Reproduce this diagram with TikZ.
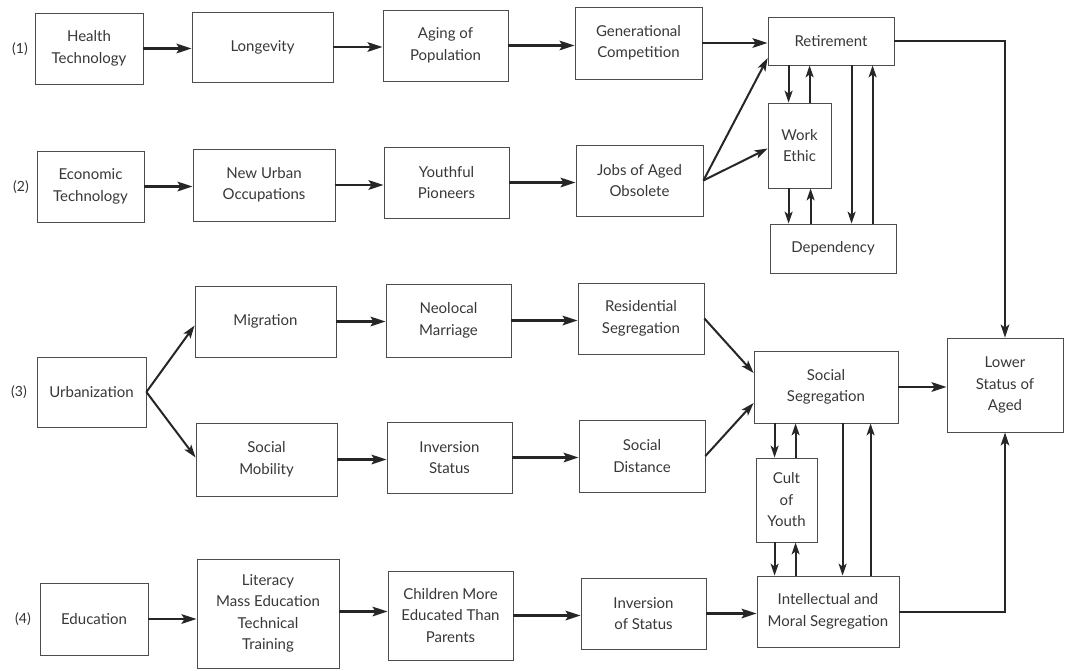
\documentclass[tikz,border=0pt]{standalone}
\usepackage{fontspec}
\setmainfont{Lato}
\usetikzlibrary{arrows.meta,calc}
\tikzset{
  box/.style={draw=black!70, line width=0.8pt, align=center, text=black!78,
    font=\fontsize{15}{21.5}\selectfont, inner sep=0pt},
  harr/.style={line width=2.6pt, draw=black!85, -{Stealth[length=15pt,width=9.5pt,inset=3pt]}},
  darr/.style={line width=2pt, draw=black!85, -{Stealth[length=13pt,width=8.5pt,inset=3pt]}},
  varr/.style={line width=1.8pt, draw=black!85, -{Stealth[length=12pt,width=8pt,inset=3pt]}},
  lbl/.style={text=black!80, font=\fontsize{14}{16}\selectfont}
}
\newcommand\mybox[6]{%
  \pgfmathsetmacro\cx{(#2+#4)/2}\pgfmathsetmacro\cy{(#3+#5)/2}%
  \pgfmathsetmacro\ww{#4-#2}\pgfmathsetmacro\hh{#5-#3}%
  \node[box,minimum width=\ww pt,minimum height=\hh pt] (#1) at (\cx,\cy) {#6};}
\begin{document}
\begin{tikzpicture}[x=1pt,y=-1pt]
\useasboundingbox[fill=white] (0,0) rectangle (1065,670);
% row labels
\node[lbl] (l1) at (20,49) {(1)};
\node[lbl] (l2) at (21,187) {(2)};
\node[lbl] (l3) at (19,392) {(3)};
\node[lbl] (l4) at (23,619) {(4)};
% boxes
\mybox{ht}{35}{13}{143}{84}{Health\\Technology}
\mybox{lon}{192}{12}{333}{82}{Longevity}
\mybox{aging}{383}{10}{508}{81}{Aging of\\Population}
\mybox{gen}{575}{7}{702}{79}{Generational\\Competition}
\mybox{ret}{768}{17}{894}{65}{Retirement}
\mybox{we}{768}{103}{831}{188}{Work\\Ethic}
\mybox{dep}{770}{224}{896}{273}{Dependency}
\mybox{et}{37}{151}{144}{222}{Economic\\Technology}
\mybox{nuo}{193}{149}{335}{221}{New Urban\\Occupations}
\mybox{yp}{384}{147}{509}{218}{Youthful\\Pioneers}
\mybox{jao}{576}{145}{703}{216}{Jobs of Aged\\Obsolete}
\mybox{urb}{37}{357}{146}{427}{Urbanization}
\mybox{mig}{195}{286}{336}{357}{Migration}
\mybox{neo}{386}{284}{511}{357}{Neolocal\\Marriage}
\mybox{res}{578}{283}{704}{354}{Residential\\Segregation}
\mybox{smob}{196}{423}{337}{496}{Social\\Mobility}
\mybox{inv}{387}{422}{512}{493}{Inversion\\Status}
\mybox{sdist}{579}{420}{705}{492}{Social\\Distance}
\mybox{sseg}{754}{351}{898}{423}{Social\\Segregation}
\mybox{low}{947}{338}{1063}{432}{Lower\\Status of\\Aged}
\mybox{cult}{756}{458}{817}{542}{Cult\\of\\Youth}
\mybox{edu}{40}{583}{148}{655}{Education}
\mybox{lit}{197}{559}{339}{668}{Literacy\\Mass Education\\Technical\\Training}
\mybox{chi}{388}{571}{513}{660}{Children More\\Educated Than\\Parents}
\mybox{invs}{581}{578}{706}{649}{Inversion\\of Status}
\mybox{ims}{757}{576}{899}{647}{Intellectual and\\Moral Segregation}
% row 1
\draw[harr] (ht.east) -- (ht.east -| lon.west);
\draw[harr] (lon.east) -- (lon.east -| aging.west);
\draw[harr] (aging.east) -- (aging.east -| gen.west);
\draw[harr] (gen.east) -- (gen.east -| ret.west);
% row 2
\draw[harr] (et.east) -- (et.east -| nuo.west);
\draw[harr] (nuo.east) -- (nuo.east -| yp.west);
\draw[harr] (yp.east) -- (yp.east -| jao.west);
\draw[darr] (jao.east) -- ([yshift=-17pt]ret.west);
\draw[darr] (jao.east) -- ([yshift=-3pt]we.west);
% retirement cluster
\draw[varr] ([xshift=21pt]ret.south west) -- ([xshift=21pt]ret.south west |- we.north);
\draw[varr] ([xshift=42pt]ret.south west |- we.north) -- ([xshift=42pt]ret.south west);
\draw[varr] ([xshift=21pt]we.south west) -- ([xshift=21pt]we.south west |- dep.north);
\draw[varr] ([xshift=43pt]we.south west |- dep.north) -- ([xshift=43pt]we.south west);
\draw[varr] ([xshift=84pt]ret.south west) -- ([xshift=84pt]ret.south west |- dep.north);
\draw[varr] ([xshift=105pt]ret.south west |- dep.north) -- ([xshift=105pt]ret.south west);
\draw[darr] (ret.east) -| (low.north);
% row 3
\draw[darr] (urb.east) -- ([yshift=-4pt]mig.west);
\draw[darr] (urb.east) -- ([yshift=2pt]smob.west);
\draw[harr] (mig.east) -- (mig.east -| neo.west);
\draw[harr] (neo.east) -- (neo.east -| res.west);
\draw[harr] (smob.east) -- (smob.east -| inv.west);
\draw[harr] (inv.east) -- (inv.east -| sdist.west);
\draw[darr] (res.east) -- ([yshift=14pt]sseg.west);
\draw[darr] (sdist.east) -- ([yshift=-16pt]sseg.west);
\draw[harr] (sseg.east) -- (sseg.east -| low.west);
% social segregation cluster
\draw[varr] ([xshift=21pt]sseg.south west) -- ([xshift=21pt]sseg.south west |- cult.north);
\draw[varr] ([xshift=42pt]sseg.south west |- cult.north) -- ([xshift=42pt]sseg.south west);
\draw[varr] ([xshift=19pt]cult.south west) -- ([xshift=19pt]cult.south west |- ims.north);
\draw[varr] ([xshift=40pt]cult.south west |- ims.north) -- ([xshift=40pt]cult.south west);
\draw[varr] ([xshift=89pt]sseg.south west) -- ([xshift=89pt]sseg.south west |- ims.north);
\draw[varr] ([xshift=117pt]sseg.south west |- ims.north) -- ([xshift=117pt]sseg.south west);
% row 4
\draw[harr] (edu.east) -- (edu.east -| lit.west);
\draw[harr] ([yshift=2pt]lit.east) -- ([yshift=2pt]lit.east -| chi.west);
\draw[harr] (chi.east) -- (chi.east -| invs.west);
\draw[harr] (invs.east) -- (invs.east -| ims.west);
\draw[darr] (ims.east) -| (low.south);
\end{tikzpicture}
\end{document}
